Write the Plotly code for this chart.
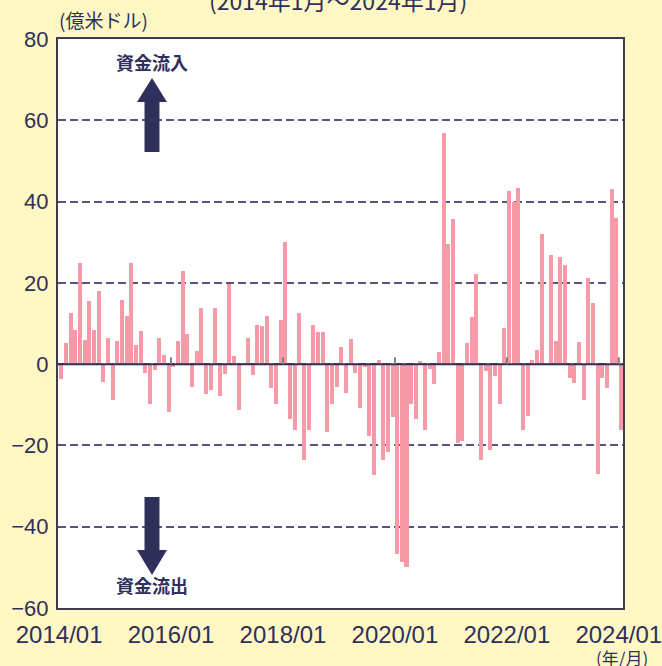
import plotly.graph_objects as go

# Monthly net flows (億米ドル), 2014/01 .. 2024/01
flows_2014_2015 = [-3.7, 5.2, 12.6, 8.4, 25.0, 5.9, 15.6, 8.4, 18.1, -4.5, 6.4, -8.9,
                   5.7, 15.9, 11.9, 25.0, 4.7, 8.2, -2.2, -9.9, -1.5, 6.4, 2.2, -11.7]
flows_2016_2017 = [-0.7, 5.7, 22.8, 7.4, -5.7, 3.2, 13.9, -7.4, -6.4, 13.9, -7.9, -2.5,
                   19.6, 2.0, -11.2, 0.3, 6.4, -2.7, 9.7, 9.4, 11.9, -5.9, -9.9, 10.9]
flows_2018_2019 = [30.0, -13.4, -16.3, 12.5, -23.5, -16.1, 9.6, 7.9, 7.9, -16.8, -9.7, -5.5,
                   4.1, -7.2, 6.1, -2.1, -10.7, -0.8, -17.6, -27.2, 0.9, -23.7, -21.5, -13.1]
flows_2020_2021 = [-46.6, -48.6, -49.8, -9.7, -13.4, 0.7, -16.1, -1.1, -4.8, 3.1, 56.8, 29.5,
                   35.6, -19.3, -19.0, 5.1, 11.7, 22.1, -23.5, -1.6, -21.2, -3.0, -9.9, 9.0]
flows_2022_2023 = [42.6, 39.9, 43.3, -16.2, -12.7, 1.0, 3.4, 32.0, 0.2, 26.8, 5.7, 26.3,
                   24.4, -3.4, -4.7, 5.4, -8.9, 21.2, 15.0, -27.1, -3.4, -5.9, 43.1, 35.9]
flows_2024 = [-16.2]

values = flows_2014_2015 + flows_2016_2017 + flows_2018_2019 + flows_2020_2021 + flows_2022_2023 + flows_2024
month_index = list(range(len(values)))

x_tick_vals = [0, 24, 48, 72, 96, 120]
x_tick_text = ["2014/01", "2016/01", "2018/01", "2020/01", "2022/01", "2024/01"]
y_tick_vals = [-60, -40, -20, 0, 20, 40, 60, 80]
y_tick_text = ["−60", "−40", "−20", "0", "20", "40", "60", "80"]

BG = "#FFF8C4"
NAVY = "#2F2F5C"
BAR = "#F59AA6"
FONT = "Liberation Sans, Arial, sans-serif"
JFONT = "Noto Sans CJK JP, sans-serif"

fig = go.Figure()
fig.add_trace(go.Bar(x=month_index, y=values, width=0.86, offset=0.05,
                     marker=dict(color=BAR, line=dict(width=0)), hoverinfo="x+y"))

shapes = []
# zero line
shapes.append(dict(type="line", xref="paper", yref="y", x0=0, x1=1, y0=0, y1=0,
                   line=dict(color=NAVY, width=2), layer="above"))
# small year marks on the zero line
for tv in x_tick_vals[1:]:
    shapes.append(dict(type="line", xref="x", yref="y", x0=tv, x1=tv, y0=0, y1=1.7,
                       line=dict(color="#808080", width=2), layer="above"))

# arrows (decorations, paper coords)
def px2paper(px, py):
    return (px - 58) / 565, (608 - py) / 569

def arrow_path(pts):
    s = ""
    for k, (px, py) in enumerate(pts):
        x, y = px2paper(px, py)
        s += ("M" if k == 0 else "L") + f"{x:.4f},{y:.4f} "
    return s + "Z"

up = [(152, 78), (167, 102), (159.5, 102), (159.5, 152), (144.5, 152), (144.5, 102), (137, 102)]
down = [(152, 575), (167, 550), (159.5, 550), (159.5, 497), (144.5, 497), (144.5, 550), (137, 550)]
for pts in (up, down):
    shapes.append(dict(type="path", xref="paper", yref="paper", path=arrow_path(pts),
                       fillcolor=NAVY, line=dict(width=0), layer="above"))

annotations = [
    dict(text="(2014年1月～2024年1月)", xref="paper", yref="paper", x=0.496, y=608 / 569,
         xanchor="center", yanchor="middle", showarrow=False,
         font=dict(family=JFONT, size=23, color=NAVY)),
    dict(text="(億米ドル)", xref="paper", yref="paper", x=(103 - 58) / 565, y=(608 - 20) / 569,
         xanchor="center", yanchor="middle", showarrow=False,
         font=dict(family=JFONT, size=19, color=NAVY)),
    dict(text="<b>資金流入</b>", xref="paper", yref="paper", x=(152 - 58) / 565, y=(608 - 62) / 569,
         xanchor="center", yanchor="middle", showarrow=False,
         font=dict(family=JFONT, size=18, color=NAVY)),
    dict(text="<b>資金流出</b>", xref="paper", yref="paper", x=(152 - 58) / 565, y=(608 - 585) / 569,
         xanchor="center", yanchor="middle", showarrow=False,
         font=dict(family=JFONT, size=18, color=NAVY)),
    dict(text="(年/月)", xref="paper", yref="paper", x=(622 - 58) / 565, y=(608 - 657) / 569,
         xanchor="center", yanchor="middle", showarrow=False,
         font=dict(family=JFONT, size=17, color=NAVY)),
]

fig.update_layout(
    width=662, height=666,
    margin=dict(l=58, r=39, t=39, b=58, autoexpand=False),
    paper_bgcolor=BG, plot_bgcolor="white",
    showlegend=False, bargap=0,
    shapes=shapes, annotations=annotations,
    xaxis=dict(range=[-0.24, 120.9], tickvals=x_tick_vals, ticktext=x_tick_text,
               showgrid=False, zeroline=False, showline=True, mirror=True,
               linecolor="#3C3C4C", linewidth=2, ticks="", ticklabelstandoff=4,
               ticklabeloverflow="allow", automargin=False,
               tickfont=dict(family=FONT, size=24, color=NAVY)),
    yaxis=dict(range=[-60, 80], tickvals=y_tick_vals, ticktext=y_tick_text,
               showgrid=True, gridcolor="#55557F", gridwidth=1.5, griddash="8px,4px",
               zeroline=False, showline=True, mirror=True, automargin=False,
               linecolor="#3C3C4C", linewidth=2, ticks="", ticklabelstandoff=3,
               tickfont=dict(family=FONT, size=22, color=NAVY)),
)

fig.write_html("out.html", config={"displayModeBar": False},
               post_script="document.body.style.margin='0px';document.body.style.background='" + BG + "';")
